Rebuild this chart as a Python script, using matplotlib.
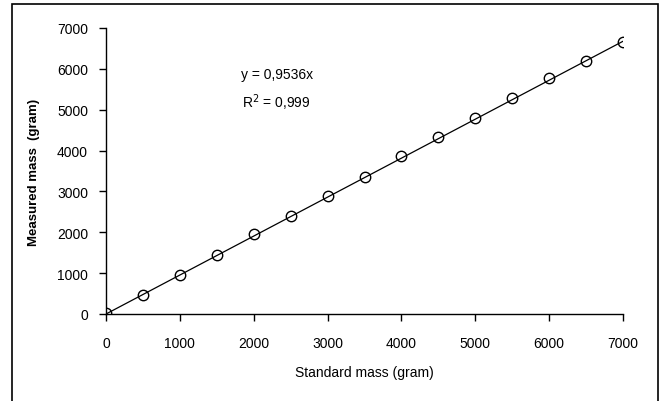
import matplotlib.pyplot as plt
import numpy as np
from matplotlib.patches import Rectangle

plt.rcParams['font.family'] = ['Liberation Sans', 'DejaVu Sans']

# calibration data
standard_mass = [0, 500, 1000, 1500, 2000, 2500, 3000, 3500, 4000, 4500, 5000, 5500, 6000, 6500, 7000]
measured_mass = [17, 472, 947, 1451, 1958, 2391, 2895, 3346, 3860, 4325, 4797, 5287, 5769, 6192, 6650]
slope = 0.9536

W, H = 660, 402
fig = plt.figure(figsize=(6.6, 4.02), dpi=100)
ax = fig.add_axes([106 / W, 1 - 315 / H, (623 - 106) / W, (315 - 29) / H])

xfit = np.array([0, 7000])
ax.plot(xfit, slope * xfit, color='black', lw=0.9, zorder=2)
ax.plot(standard_mass, measured_mass, 'o', ms=7.5, mfc='none', mec='black', mew=1.0, zorder=3)

ax.set_xlim(0, 7000)
ax.set_ylim(0, 7000)
ax.set_xticks(range(0, 7001, 1000))
ax.set_yticks(range(0, 7001, 1000))
ax.spines['top'].set_visible(False)
ax.spines['right'].set_visible(False)
for s in ['left', 'bottom']:
    ax.spines[s].set_linewidth(1.0)
ax.tick_params(direction='out', length=5, width=1, labelsize=10)
ax.tick_params(axis='x', pad=11)
ax.tick_params(axis='y', pad=8)

ax.set_xlabel('Standard mass (gram)', fontsize=10, labelpad=11)
ax.set_ylabel('Measured mass  (gram)', fontsize=9.5, fontweight='bold', labelpad=12)

ax.text(0.33, 0.839, 'y = 0,9536x', transform=ax.transAxes, ha='center', va='center', fontsize=10)
ax.text(0.33, 0.741, 'R$^2$ = 0,999', transform=ax.transAxes, ha='center', va='center', fontsize=10)

# outer chart border
fig.patches.append(Rectangle((12 / W, -0.05), (658 - 12) / W, 1 - 5 / H + 0.05,
                             transform=fig.transFigure, fill=False, ec='black', lw=1.2))

fig.savefig('out.png', dpi=100)
